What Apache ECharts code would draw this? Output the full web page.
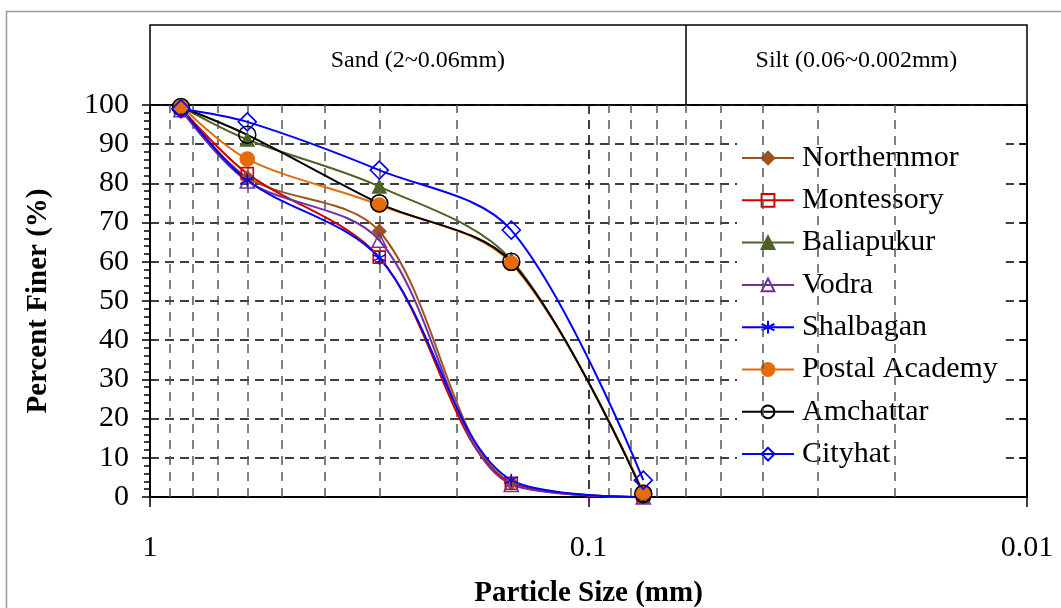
<!DOCTYPE html>
<html>
<head>
<meta charset="utf-8">
<script src="https://cdn.jsdelivr.net/npm/echarts@6/dist/echarts.min.js"></script>
<style>
html,body{margin:0;padding:0;background:#fff;}
#chart{width:1061px;height:608px;}
</style>
</head>
<body>
<div id="chart"></div>
<script>
// ---- data ----
const sieveSizes = [0.85, 0.6, 0.3, 0.15, 0.075];
const northernmor = [99.5, 81.5, 67.8, 3.6, 0];
const montessory = [99.2, 82.5, 61.2, 3.5, 0];
const baliapukur = [99.6, 91.2, 79.2, 60.5, 1.0];
const vodra = [98.8, 80.6, 65.5, 3.2, 0];
const shalbagan = [99.3, 80.8, 61.0, 4.3, 0];
const postalAcademy = [99.8, 86.2, 74.5, 59.6, 1.2];
const amchattar = [99.5, 92.4, 74.9, 60.0, 0.8];
const cityhat = [99.0, 95.7, 83.4, 68.1, 4.3];
const seriesNames = ['Northernmor','Montessory','Baliapukur','Vodra','Shalbagan','Postal Academy','Amchattar','Cityhat'];
const yTicks = [0,10,20,30,40,50,60,70,80,90,100];
const minorGridSizes = [0.9,0.8,0.7,0.6,0.5,0.4,0.3,0.2,0.09,0.08,0.07,0.06,0.05,0.04,0.03,0.02];
const zoneBoundary = 0.06;
const zoneLabels = ['Sand (2~0.06mm)', 'Silt (0.06~0.002mm)'];
const xMin = 0.01, xMax = 1;

const FONT = '"Liberation Serif","Times New Roman",serif';
const asterisk = 'path://M5,0L5,10M0.67,2.5L9.33,7.5M0.67,7.5L9.33,2.5';

const styles = [
  {color:'#A0521E', symbol:'diamond', size:13, fill:'#A0521E'},
  {color:'#D00000', symbol:'rect', size:12, fill:'transparent'},
  {color:'#4F6228', symbol:'triangle', size:13, fill:'#4F6228'},
  {color:'#7030A0', symbol:'triangle', size:14, fill:'transparent'},
  {color:'#0000FF', symbol:asterisk, size:13, fill:'#0000FF'},
  {color:'#E46C0A', symbol:'circle', size:14, fill:'#E46C0A'},
  {color:'#000000', symbol:'circle', size:17, fill:'transparent'},
  {color:'#0000FF', symbol:'diamond', size:18, fill:'transparent'}
];
const values = [northernmor, montessory, baliapukur, vodra, shalbagan, postalAcademy, amchattar, cityhat];

const dataSeries = seriesNames.map((name, k) => ({
  name: name,
  type: 'line',
  xAxisIndex: 0, yAxisIndex: 0,
  smooth: 0.33,
  z: 5,
  data: sieveSizes.map((x, i) => [x, values[k][i]]),
  symbol: styles[k].symbol,
  symbolSize: styles[k].size,
  lineStyle: {color: styles[k].color, width: 2},
  itemStyle: {color: styles[k].fill, borderColor: styles[k].color, borderWidth: 1.6},
  emphasis: {disabled: true}
}));

const chart = echarts.init(document.getElementById('chart'), null, {renderer: 'canvas'});

const option = {
  animation: false,
  backgroundColor: '#fff',
  textStyle: {fontFamily: FONT},
  graphic: [{
    type: 'rect', left: 4, top: 9, z: -10,
    shape: {width: 1100, height: 700},
    style: {fill: 'none', stroke: '#9a9a9a', lineWidth: 1.5}
  }],
  grid: [
    {left: 150, right: 34, top: 105, bottom: 111, outerBoundsMode: 'none', containLabel: false, show: true, borderColor: '#000', borderWidth: 1.5, backgroundColor: 'transparent'},
    {left: 150, right: 34, top: 25, height: 80, outerBoundsMode: 'none', containLabel: false, show: true, borderColor: '#000', borderWidth: 1.5, backgroundColor: 'transparent'}
  ],
  xAxis: [
    {
      type: 'log', logBase: 10, min: xMin, max: xMax, inverse: true, gridIndex: 0,
      name: 'Particle Size (mm)', nameLocation: 'middle', nameGap: 82,
      nameTextStyle: {fontFamily: FONT, fontSize: 29, fontWeight: 'bold', color: '#000'},
      axisLine: {lineStyle: {color: '#000', width: 2}},
      axisTick: {show: true, length: 10, lineStyle: {color: '#000', width: 1.5}},
      axisLabel: {fontFamily: FONT, fontSize: 30, color: '#000', margin: 36},
      splitLine: {show: true, lineStyle: {color: '#000', width: 1.5, type: [9, 6]}}
    },
    {
      type: 'log', logBase: 10, min: xMin, max: xMax, inverse: true, gridIndex: 1,
      axisLine: {show: false}, axisTick: {show: false}, axisLabel: {show: false}, splitLine: {show: false}
    }
  ],
  yAxis: [
    {
      type: 'value', min: 0, max: 100, interval: 10, gridIndex: 0,
      name: 'Percent Finer (%)', nameLocation: 'middle', nameGap: 97,
      nameTextStyle: {fontFamily: FONT, fontSize: 29, fontWeight: 'bold', color: '#000'},
      axisLine: {show: true, lineStyle: {color: '#000', width: 2}},
      axisTick: {show: true, length: 8, lineStyle: {color: '#000', width: 1.5}},
      minorTick: {show: true, splitNumber: 5, length: 6, lineStyle: {color: '#000', width: 1.5}},
      axisLabel: {fontFamily: FONT, fontSize: 30, color: '#000', margin: 21},
      splitLine: {show: true, lineStyle: {color: '#000', width: 1.5, type: [9, 6]}}
    },
    {
      type: 'value', min: 0, max: 100, interval: 10, gridIndex: 0, position: 'right',
      axisLine: {show: true, lineStyle: {color: '#000', width: 2}},
      axisTick: {show: true, inside: true, length: 8, lineStyle: {color: '#000', width: 1.5}},
      axisLabel: {show: false}, splitLine: {show: false}
    },
    {
      type: 'value', min: 0, max: 1, gridIndex: 1,
      axisLine: {show: false}, axisTick: {show: false}, axisLabel: {show: false}, splitLine: {show: false}
    }
  ],
  legend: {
    orient: 'vertical', left: 737, top: 139,
    data: seriesNames,
    itemWidth: 52, itemHeight: 16, itemGap: 12.3,
    backgroundColor: '#fff', padding: [4, 8, 4, 4],
    textStyle: {fontFamily: FONT, fontSize: 30, color: '#000', lineHeight: 30, padding: [0, 0, 0, 3]},
    selectedMode: false
  },
  series: [
    {
      name: '_minorGrid', type: 'line', xAxisIndex: 0, yAxisIndex: 0, data: [], z: 1, silent: true,
      markLine: {
        silent: true, symbol: ['none', 'none'], label: {show: false},
        lineStyle: {color: '#555', width: 1.5, type: [9, 7]},
        emphasis: {disabled: true},
        data: minorGridSizes.map(v => ({xAxis: v}))
      }
    },
    {
      name: '_zones', type: 'line', xAxisIndex: 1, yAxisIndex: 2, data: [], z: 1, silent: true,
      markLine: {
        silent: true, symbol: ['none', 'none'], label: {show: false},
        lineStyle: {color: '#000', width: 1.5, type: 'solid'},
        emphasis: {disabled: true},
        data: [{xAxis: zoneBoundary}]
      },
      markArea: {
        silent: true,
        itemStyle: {color: 'transparent'},
        label: {show: true, position: 'inside', fontFamily: FONT, fontSize: 24, color: '#000', offset: [0, -4]},
        emphasis: {disabled: true},
        data: [
          [{xAxis: xMax, name: zoneLabels[0]}, {xAxis: zoneBoundary}],
          [{xAxis: zoneBoundary, name: zoneLabels[1]}, {xAxis: xMin}]
        ]
      }
    }
  ].concat(dataSeries)
};
chart.setOption(option);
</script>
</body>
</html>
